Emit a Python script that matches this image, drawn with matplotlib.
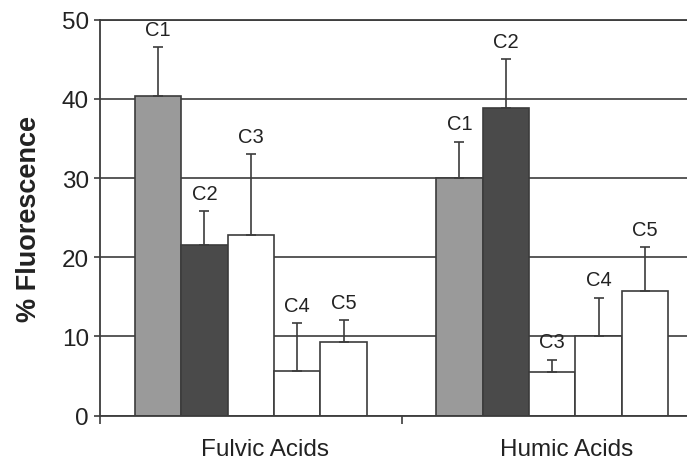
import matplotlib.pyplot as plt
import numpy as np

plt.rcParams['font.family'] = ['Liberation Sans', 'DejaVu Sans']

groups = ['Fulvic Acids', 'Humic Acids']
components = ['C1', 'C2', 'C3', 'C4', 'C5']
fulvic = [40.4, 21.5, 22.8, 5.7, 9.35]
fulvic_err = [6.1, 4.3, 10.2, 6.0, 2.7]
humic = [30.0, 38.9, 5.55, 10.0, 15.7]
humic_err = [4.6, 6.1, 1.5, 4.9, 5.6]
bar_colors = ['#9a9a9a', '#4a4a4a', 'white', 'white', 'white']

line_col = '#3c3c3c'
width = 0.154

fig = plt.figure(figsize=(6.87, 4.6), dpi=100)
ax = fig.add_axes([0.1456, 0.0942, 0.8544, 0.861])
ax.set_axisbelow(True)

for g, (vals, errs) in enumerate([(fulvic, fulvic_err), (humic, humic_err)]):
    x = g + 0.5 + (np.arange(len(components)) - 2) * width
    ax.bar(x, vals, width=width, color=bar_colors, edgecolor=line_col,
           linewidth=1.2, zorder=2)
    ax.errorbar(x, vals, yerr=[np.zeros(len(vals)), errs], fmt='none',
                ecolor=line_col, elinewidth=1.2, capsize=3.6, capthick=1.2,
                zorder=3)
    for xi, v, e, name in zip(x, vals, errs, components):
        ax.annotate(name, (xi, v + e), xytext=(0, 6), textcoords='offset points',
                    ha='center', va='bottom', fontsize=14.5, color='#222222')

ax.set_yticks(range(0, 51, 10))
ax.yaxis.grid(True, color=line_col, linewidth=1.2)
ax.tick_params(axis='y', direction='out', length=4, width=1.2, color=line_col,
               labelsize=17.5, labelcolor='#222222', pad=4)

ax.set_xticks([0, 1, 2])
ax.set_xticklabels([])
ax.set_xticks([0.547, 1.547], minor=True)
ax.set_xticklabels(groups, minor=True)
ax.tick_params(axis='x', which='major', direction='out', length=6, width=1.2,
               color=line_col)
ax.tick_params(axis='x', which='minor', length=0, labelsize=17.5,
               labelcolor='#222222', pad=16)

# limits after ticks so set_xticks does not widen the view
ax.set_ylim(0, 50)
ax.set_xlim(0, 1.947)

for s in ['left', 'bottom', 'top']:
    ax.spines[s].set_color(line_col)
    ax.spines[s].set_linewidth(1.3)
ax.spines['right'].set_visible(False)

ax.set_ylabel('% Fluorescence', fontsize=19.5, fontweight='bold',
              color='#222222', labelpad=14)

fig.savefig('out.png', dpi=100)
